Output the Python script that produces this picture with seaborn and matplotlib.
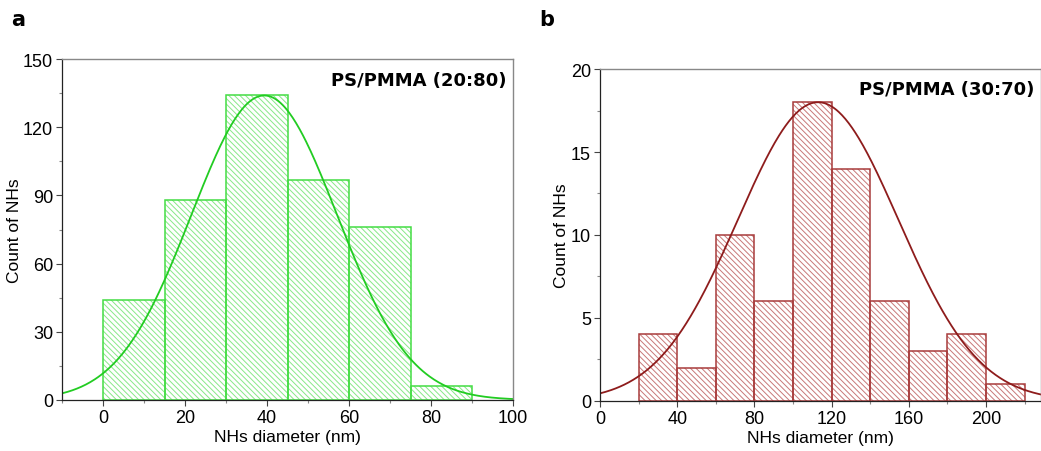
import numpy as np
import seaborn as sns
import matplotlib.pyplot as plt
from matplotlib.ticker import MultipleLocator

# bin edges and counts
edges_a = [0, 15, 30, 45, 60, 75, 90]
counts_a = [44, 88, 134, 97, 76, 6]
edges_b = [20, 40, 60, 80, 100, 120, 140, 160, 180, 200, 220]
counts_b = [4, 2, 10, 6, 18, 14, 6, 3, 4, 1]

# gaussian fit parameters (amplitude, centre, sigma) as drawn
fit_a = (134, 39.3, 17.8)
fit_b = (18, 113, 41.6)

sns.set_style('ticks')
plt.rcParams['font.family'] = ['Liberation Sans', 'DejaVu Sans']
plt.rcParams['hatch.linewidth'] = 0.7
plt.rcParams['text.color'] = 'black'
plt.rcParams['axes.labelcolor'] = 'black'
plt.rcParams['xtick.color'] = 'black'
plt.rcParams['ytick.color'] = 'black'

fig = plt.figure(figsize=(10.41, 4.52), dpi=100)
ax1 = fig.add_axes([0.0596, 0.113, 0.4334, 0.754])
ax2 = fig.add_axes([0.5764, 0.111, 0.4236, 0.734])


def draw_panel(ax, edges, counts, fit, edge_col, hatch_col, line_col, xlim, ylim, label):
    centers = [(edges[i] + edges[i + 1]) / 2 for i in range(len(counts))]
    # hatched fill first, then the outline on top
    sns.histplot(x=centers, weights=counts, bins=edges, ax=ax,
                 facecolor='white', edgecolor=hatch_col, hatch='\\\\\\\\\\\\', linewidth=0)
    sns.histplot(x=centers, weights=counts, bins=edges, ax=ax,
                 facecolor='none', edgecolor=edge_col, linewidth=1.1)
    amp, mu, sig = fit
    xs = np.linspace(xlim[0], xlim[1], 400)
    sns.lineplot(x=xs, y=amp * np.exp(-(xs - mu) ** 2 / (2 * sig ** 2)), ax=ax,
                 color=line_col, linewidth=1.3)
    ax.set_xlim(*xlim)
    ax.set_ylim(*ylim)
    ax.set_xlabel('NHs diameter (nm)', fontsize=12.5, labelpad=2)
    ax.set_ylabel('Count of NHs', fontsize=12.5, labelpad=1)
    ax.tick_params(axis='both', which='major', labelsize=13, length=4, width=0.8,
                   color='#444444', labelcolor='black', pad=2.5)
    ax.tick_params(axis='both', which='minor', length=2.5, width=0.8, color='#888888')
    for s in ['left', 'bottom']:
        ax.spines[s].set_color('#222222')
        ax.spines[s].set_linewidth(0.9)
    for s in ['top', 'right']:
        ax.spines[s].set_visible(True)
        ax.spines[s].set_color('#888888')
        ax.spines[s].set_linewidth(1.0)
    ax.text(0.985, 0.94, label, transform=ax.transAxes, ha='right', va='center',
            fontsize=13, fontweight='bold', family='DejaVu Sans', color='black')


draw_panel(ax1, edges_a, counts_a, fit_a, '#44dd44', '#88e888', '#22cc22',
           (-10, 100), (0, 150), 'PS/PMMA (20:80)')
ax1.xaxis.set_major_locator(MultipleLocator(20))
ax1.xaxis.set_minor_locator(MultipleLocator(10))
ax1.yaxis.set_major_locator(MultipleLocator(30))
ax1.yaxis.set_minor_locator(MultipleLocator(15))

draw_panel(ax2, edges_b, counts_b, fit_b, '#a83c3c', '#c87878', '#8e1c1c',
           (0, 228.5), (0, 20), 'PS/PMMA (30:70)')
ax2.xaxis.set_major_locator(MultipleLocator(40))
ax2.xaxis.set_minor_locator(MultipleLocator(20))
ax2.yaxis.set_major_locator(MultipleLocator(5))
ax2.yaxis.set_minor_locator(MultipleLocator(2.5))

fig.text(0.011, 0.955, 'a', fontsize=15, fontweight='bold', family='DejaVu Sans', va='center')
fig.text(0.518, 0.955, 'b', fontsize=15, fontweight='bold', family='DejaVu Sans', va='center')

fig.savefig('out.png', dpi=100)
